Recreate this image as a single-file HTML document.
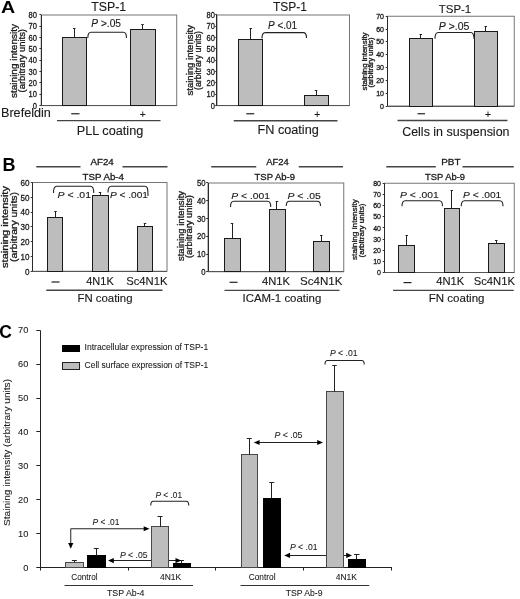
<!DOCTYPE html>
<html><head><meta charset="utf-8"><title>Figure</title>
<style>
html,body{margin:0;padding:0;background:#fff;}
body{width:520px;height:599px;overflow:hidden;font-family:"Liberation Sans",sans-serif;}
svg{display:block;filter:grayscale(1);}
svg text{font-family:"Liberation Sans",sans-serif;}
</style></head>
<body>
<svg width="520" height="599" viewBox="0 0 520 599">
<rect x="0" y="0" width="520" height="599" fill="#ffffff"/>
<text transform="translate(1,13.4) scale(1.06,0.88)" font-size="18.5" font-weight="bold" fill="#000">A</text>
<rect x="41.20" y="15.00" width="135.50" height="90.60" fill="none" stroke="#757575" stroke-width="1"/>
<line x1="41.50" y1="15.00" x2="41.50" y2="105.60" stroke="#2a2a2a" stroke-width="1" />
<line x1="41.20" y1="105.50" x2="176.70" y2="105.50" stroke="#555" stroke-width="1" />
<line x1="39.40" y1="105.50" x2="41.20" y2="105.50" stroke="#333" stroke-width="1" />
<text x="32.80" y="108.70" font-size="8.6" textLength="4.20" lengthAdjust="spacingAndGlyphs" fill="#1a1a1a" stroke="#1a1a1a" stroke-width="0.3" >0</text>
<line x1="39.40" y1="94.50" x2="41.20" y2="94.50" stroke="#333" stroke-width="1" />
<text x="28.60" y="97.37" font-size="8.6" textLength="8.40" lengthAdjust="spacingAndGlyphs" fill="#1a1a1a" stroke="#1a1a1a" stroke-width="0.3" >10</text>
<line x1="39.40" y1="82.50" x2="41.20" y2="82.50" stroke="#333" stroke-width="1" />
<text x="28.60" y="86.05" font-size="8.6" textLength="8.40" lengthAdjust="spacingAndGlyphs" fill="#1a1a1a" stroke="#1a1a1a" stroke-width="0.3" >20</text>
<line x1="39.40" y1="71.50" x2="41.20" y2="71.50" stroke="#333" stroke-width="1" />
<text x="28.60" y="74.72" font-size="8.6" textLength="8.40" lengthAdjust="spacingAndGlyphs" fill="#1a1a1a" stroke="#1a1a1a" stroke-width="0.3" >30</text>
<line x1="39.40" y1="60.50" x2="41.20" y2="60.50" stroke="#333" stroke-width="1" />
<text x="28.60" y="63.40" font-size="8.6" textLength="8.40" lengthAdjust="spacingAndGlyphs" fill="#1a1a1a" stroke="#1a1a1a" stroke-width="0.3" >40</text>
<line x1="39.40" y1="48.50" x2="41.20" y2="48.50" stroke="#333" stroke-width="1" />
<text x="28.60" y="52.07" font-size="8.6" textLength="8.40" lengthAdjust="spacingAndGlyphs" fill="#1a1a1a" stroke="#1a1a1a" stroke-width="0.3" >50</text>
<line x1="39.40" y1="37.50" x2="41.20" y2="37.50" stroke="#333" stroke-width="1" />
<text x="28.60" y="40.75" font-size="8.6" textLength="8.40" lengthAdjust="spacingAndGlyphs" fill="#1a1a1a" stroke="#1a1a1a" stroke-width="0.3" >60</text>
<line x1="39.40" y1="26.50" x2="41.20" y2="26.50" stroke="#333" stroke-width="1" />
<text x="28.60" y="29.42" font-size="8.6" textLength="8.40" lengthAdjust="spacingAndGlyphs" fill="#1a1a1a" stroke="#1a1a1a" stroke-width="0.3" >70</text>
<line x1="39.40" y1="14.50" x2="41.20" y2="14.50" stroke="#333" stroke-width="1" />
<text x="28.60" y="18.10" font-size="8.6" textLength="8.40" lengthAdjust="spacingAndGlyphs" fill="#1a1a1a" stroke="#1a1a1a" stroke-width="0.3" >80</text>
<text transform="translate(16.90,98.00) rotate(-90)" font-size="9.2" textLength="74.00" lengthAdjust="spacingAndGlyphs" fill="#1a1a1a" stroke="#1a1a1a" stroke-width="0.3">staining intensity</text>
<text transform="translate(24.90,92.50) rotate(-90)" font-size="9.2" textLength="63.50" lengthAdjust="spacingAndGlyphs" fill="#1a1a1a" stroke="#1a1a1a" stroke-width="0.3">(arbitrary units)</text>
<text x="91.25" y="10.70" font-size="12.3" textLength="35.00" lengthAdjust="spacingAndGlyphs" fill="#1a1a1a" stroke="#1a1a1a" stroke-width="0.12" >TSP-1</text>
<rect x="62.50" y="37.50" width="24.00" height="68.00" fill="#bdbdbd" stroke="#1a1a1a" stroke-width="1"/>
<line x1="74.50" y1="28.00" x2="74.50" y2="37.30" stroke="#222" stroke-width="1" />
<line x1="72.95" y1="28.50" x2="75.45" y2="28.50" stroke="#222" stroke-width="1" />
<rect x="130.50" y="29.50" width="25.00" height="76.00" fill="#bdbdbd" stroke="#1a1a1a" stroke-width="1"/>
<line x1="142.50" y1="25.00" x2="142.50" y2="29.80" stroke="#222" stroke-width="1" />
<line x1="141.25" y1="24.50" x2="143.75" y2="24.50" stroke="#222" stroke-width="1" />
<path d="M87.80,38.00 C87.80,33.80 88.60,32.30 91.00,32.30 L123.30,32.30 C125.70,32.30 126.50,33.80 126.50,38.00" stroke="#222" stroke-width="1.1" fill="none"/>
<text x="91.30" y="27.10" font-size="10.2" textLength="29.70" lengthAdjust="spacingAndGlyphs" fill="#1a1a1a" stroke="#1a1a1a" stroke-width="0.12" ><tspan font-style="italic">P</tspan> >.05</text>
<text x="1.00" y="117.40" font-size="12.3" textLength="49.80" lengthAdjust="spacingAndGlyphs" fill="#1a1a1a" stroke="#1a1a1a" stroke-width="0.12" >Brefeldin</text>
<line x1="71.25" y1="113.75" x2="79.50" y2="113.75" stroke="#222" stroke-width="1.2" />
<text x="139.80" y="118.00" font-size="10" textLength="6.00" lengthAdjust="spacingAndGlyphs" fill="#1a1a1a" stroke="#1a1a1a" stroke-width="0.12" >+</text>
<line x1="57.00" y1="120.60" x2="160.50" y2="120.60" stroke="#444" stroke-width="1.4" />
<text x="76.75" y="135.40" font-size="12.3" textLength="66.50" lengthAdjust="spacingAndGlyphs" fill="#1a1a1a" stroke="#1a1a1a" stroke-width="0.12" >PLL coating</text>
<rect x="217.00" y="15.00" width="132.50" height="90.60" fill="none" stroke="#757575" stroke-width="1"/>
<line x1="216.50" y1="15.00" x2="216.50" y2="105.60" stroke="#2a2a2a" stroke-width="1" />
<line x1="217.00" y1="105.50" x2="349.50" y2="105.50" stroke="#555" stroke-width="1" />
<line x1="215.20" y1="105.50" x2="217.00" y2="105.50" stroke="#333" stroke-width="1" />
<text x="210.80" y="108.70" font-size="8.6" textLength="4.20" lengthAdjust="spacingAndGlyphs" fill="#1a1a1a" stroke="#1a1a1a" stroke-width="0.3" >0</text>
<line x1="215.20" y1="94.50" x2="217.00" y2="94.50" stroke="#333" stroke-width="1" />
<text x="206.60" y="97.37" font-size="8.6" textLength="8.40" lengthAdjust="spacingAndGlyphs" fill="#1a1a1a" stroke="#1a1a1a" stroke-width="0.3" >10</text>
<line x1="215.20" y1="82.50" x2="217.00" y2="82.50" stroke="#333" stroke-width="1" />
<text x="206.60" y="86.05" font-size="8.6" textLength="8.40" lengthAdjust="spacingAndGlyphs" fill="#1a1a1a" stroke="#1a1a1a" stroke-width="0.3" >20</text>
<line x1="215.20" y1="71.50" x2="217.00" y2="71.50" stroke="#333" stroke-width="1" />
<text x="206.60" y="74.72" font-size="8.6" textLength="8.40" lengthAdjust="spacingAndGlyphs" fill="#1a1a1a" stroke="#1a1a1a" stroke-width="0.3" >30</text>
<line x1="215.20" y1="60.50" x2="217.00" y2="60.50" stroke="#333" stroke-width="1" />
<text x="206.60" y="63.40" font-size="8.6" textLength="8.40" lengthAdjust="spacingAndGlyphs" fill="#1a1a1a" stroke="#1a1a1a" stroke-width="0.3" >40</text>
<line x1="215.20" y1="48.50" x2="217.00" y2="48.50" stroke="#333" stroke-width="1" />
<text x="206.60" y="52.07" font-size="8.6" textLength="8.40" lengthAdjust="spacingAndGlyphs" fill="#1a1a1a" stroke="#1a1a1a" stroke-width="0.3" >50</text>
<line x1="215.20" y1="37.50" x2="217.00" y2="37.50" stroke="#333" stroke-width="1" />
<text x="206.60" y="40.75" font-size="8.6" textLength="8.40" lengthAdjust="spacingAndGlyphs" fill="#1a1a1a" stroke="#1a1a1a" stroke-width="0.3" >60</text>
<line x1="215.20" y1="26.50" x2="217.00" y2="26.50" stroke="#333" stroke-width="1" />
<text x="206.60" y="29.42" font-size="8.6" textLength="8.40" lengthAdjust="spacingAndGlyphs" fill="#1a1a1a" stroke="#1a1a1a" stroke-width="0.3" >70</text>
<line x1="215.20" y1="14.50" x2="217.00" y2="14.50" stroke="#333" stroke-width="1" />
<text x="206.60" y="18.10" font-size="8.6" textLength="8.40" lengthAdjust="spacingAndGlyphs" fill="#1a1a1a" stroke="#1a1a1a" stroke-width="0.3" >80</text>
<text transform="translate(192.60,95.50) rotate(-90)" font-size="9.2" textLength="70.50" lengthAdjust="spacingAndGlyphs" fill="#1a1a1a" stroke="#1a1a1a" stroke-width="0.3">staining intensity</text>
<text transform="translate(201.20,90.00) rotate(-90)" font-size="9.2" textLength="59.00" lengthAdjust="spacingAndGlyphs" fill="#1a1a1a" stroke="#1a1a1a" stroke-width="0.3">(arbitrary units)</text>
<text x="273.00" y="10.70" font-size="12.3" textLength="34.00" lengthAdjust="spacingAndGlyphs" fill="#1a1a1a" stroke="#1a1a1a" stroke-width="0.12" >TSP-1</text>
<rect x="238.50" y="39.50" width="24.00" height="66.00" fill="#bdbdbd" stroke="#1a1a1a" stroke-width="1"/>
<line x1="250.50" y1="28.00" x2="250.50" y2="39.50" stroke="#222" stroke-width="1" />
<line x1="249.50" y1="28.50" x2="252.00" y2="28.50" stroke="#222" stroke-width="1" />
<rect x="304.50" y="95.50" width="24.00" height="10.00" fill="#bdbdbd" stroke="#1a1a1a" stroke-width="1"/>
<line x1="316.50" y1="90.50" x2="316.50" y2="95.50" stroke="#222" stroke-width="1" />
<line x1="314.75" y1="90.50" x2="317.25" y2="90.50" stroke="#222" stroke-width="1" />
<path d="M262.00,38.50 C262.00,34.10 262.80,32.60 265.20,32.60 L303.30,32.60 C305.70,32.60 306.50,34.10 306.50,38.00" stroke="#222" stroke-width="1.1" fill="none"/>
<text x="268.00" y="29.40" font-size="10" textLength="29.00" lengthAdjust="spacingAndGlyphs" fill="#1a1a1a" stroke="#1a1a1a" stroke-width="0.12" ><tspan font-style="italic">P</tspan> <.01</text>
<line x1="246.25" y1="113.75" x2="254.25" y2="113.75" stroke="#222" stroke-width="1.2" />
<text x="314.30" y="118.00" font-size="10" textLength="6.00" lengthAdjust="spacingAndGlyphs" fill="#1a1a1a" stroke="#1a1a1a" stroke-width="0.12" >+</text>
<line x1="233.75" y1="120.75" x2="337.50" y2="120.75" stroke="#444" stroke-width="1.4" />
<text x="257.50" y="134.30" font-size="12.3" textLength="61.25" lengthAdjust="spacingAndGlyphs" fill="#1a1a1a" stroke="#1a1a1a" stroke-width="0.12" >FN coating</text>
<rect x="387.50" y="16.25" width="126.75" height="89.75" fill="none" stroke="#757575" stroke-width="1"/>
<line x1="387.50" y1="16.25" x2="387.50" y2="106.00" stroke="#2a2a2a" stroke-width="1" />
<line x1="387.50" y1="106.50" x2="514.25" y2="106.50" stroke="#555" stroke-width="1" />
<line x1="385.70" y1="106.50" x2="387.50" y2="106.50" stroke="#333" stroke-width="1" />
<text x="380.10" y="108.52" font-size="7" textLength="3.90" lengthAdjust="spacingAndGlyphs" fill="#1a1a1a" stroke="#1a1a1a" stroke-width="0.3" >0</text>
<line x1="385.70" y1="93.50" x2="387.50" y2="93.50" stroke="#333" stroke-width="1" />
<text x="376.20" y="95.70" font-size="7" textLength="7.80" lengthAdjust="spacingAndGlyphs" fill="#1a1a1a" stroke="#1a1a1a" stroke-width="0.3" >10</text>
<line x1="385.70" y1="80.50" x2="387.50" y2="80.50" stroke="#333" stroke-width="1" />
<text x="376.20" y="82.88" font-size="7" textLength="7.80" lengthAdjust="spacingAndGlyphs" fill="#1a1a1a" stroke="#1a1a1a" stroke-width="0.3" >20</text>
<line x1="385.70" y1="67.50" x2="387.50" y2="67.50" stroke="#333" stroke-width="1" />
<text x="376.20" y="70.06" font-size="7" textLength="7.80" lengthAdjust="spacingAndGlyphs" fill="#1a1a1a" stroke="#1a1a1a" stroke-width="0.3" >30</text>
<line x1="385.70" y1="54.50" x2="387.50" y2="54.50" stroke="#333" stroke-width="1" />
<text x="376.20" y="57.23" font-size="7" textLength="7.80" lengthAdjust="spacingAndGlyphs" fill="#1a1a1a" stroke="#1a1a1a" stroke-width="0.3" >40</text>
<line x1="385.70" y1="41.50" x2="387.50" y2="41.50" stroke="#333" stroke-width="1" />
<text x="376.20" y="44.41" font-size="7" textLength="7.80" lengthAdjust="spacingAndGlyphs" fill="#1a1a1a" stroke="#1a1a1a" stroke-width="0.3" >50</text>
<line x1="385.70" y1="29.50" x2="387.50" y2="29.50" stroke="#333" stroke-width="1" />
<text x="376.20" y="31.59" font-size="7" textLength="7.80" lengthAdjust="spacingAndGlyphs" fill="#1a1a1a" stroke="#1a1a1a" stroke-width="0.3" >60</text>
<line x1="385.70" y1="16.50" x2="387.50" y2="16.50" stroke="#333" stroke-width="1" />
<text x="376.20" y="18.77" font-size="7" textLength="7.80" lengthAdjust="spacingAndGlyphs" fill="#1a1a1a" stroke="#1a1a1a" stroke-width="0.3" >70</text>
<text transform="translate(366.60,90.50) rotate(-90)" font-size="6.6" textLength="58.00" lengthAdjust="spacingAndGlyphs" fill="#1a1a1a" stroke="#1a1a1a" stroke-width="0.3">staining intensity</text>
<text transform="translate(373.40,87.50) rotate(-90)" font-size="6.6" textLength="50.00" lengthAdjust="spacingAndGlyphs" fill="#1a1a1a" stroke="#1a1a1a" stroke-width="0.3">(arbitrary units)</text>
<text x="438.75" y="12.50" font-size="11.8" textLength="32.50" lengthAdjust="spacingAndGlyphs" fill="#1a1a1a" stroke="#1a1a1a" stroke-width="0.12" >TSP-1</text>
<rect x="409.50" y="38.50" width="23.00" height="68.00" fill="#bdbdbd" stroke="#1a1a1a" stroke-width="1"/>
<line x1="420.50" y1="34.50" x2="420.50" y2="38.00" stroke="#222" stroke-width="1" />
<line x1="419.50" y1="34.50" x2="422.00" y2="34.50" stroke="#222" stroke-width="1" />
<rect x="474.50" y="31.50" width="23.00" height="75.00" fill="#bdbdbd" stroke="#1a1a1a" stroke-width="1"/>
<line x1="485.50" y1="26.25" x2="485.50" y2="31.50" stroke="#222" stroke-width="1" />
<line x1="484.50" y1="26.50" x2="487.00" y2="26.50" stroke="#222" stroke-width="1" />
<path d="M435.00,38.75 C435.00,34.00 435.80,32.50 438.20,32.50 L470.80,32.50 C473.20,32.50 474.00,34.00 474.00,38.75" stroke="#222" stroke-width="1.1" fill="none"/>
<text x="438.80" y="29.60" font-size="10.2" textLength="30.60" lengthAdjust="spacingAndGlyphs" fill="#1a1a1a" stroke="#1a1a1a" stroke-width="0.12" ><tspan font-style="italic">P</tspan> >.05</text>
<line x1="417.50" y1="113.75" x2="425.00" y2="113.75" stroke="#222" stroke-width="1.2" />
<text x="485.00" y="118.00" font-size="10" textLength="6.00" lengthAdjust="spacingAndGlyphs" fill="#1a1a1a" stroke="#1a1a1a" stroke-width="0.12" >+</text>
<line x1="397.50" y1="120.50" x2="507.50" y2="120.50" stroke="#444" stroke-width="1.4" />
<text x="402.20" y="135.50" font-size="12.3" textLength="107.30" lengthAdjust="spacingAndGlyphs" fill="#1a1a1a" stroke="#1a1a1a" stroke-width="0.12" >Cells in suspension</text>
<text x="2.6" y="171.2" font-size="18" font-weight="bold" fill="#000">B</text>
<text x="90.50" y="165.00" font-size="9.2" textLength="23.25" lengthAdjust="spacingAndGlyphs" fill="#1a1a1a" stroke="#1a1a1a" stroke-width="0.3" >AF24</text>
<line x1="36.30" y1="166.80" x2="80.50" y2="166.80" stroke="#444" stroke-width="1.4" />
<line x1="122.50" y1="166.80" x2="167.50" y2="166.80" stroke="#444" stroke-width="1.4" />
<text x="82.50" y="179.50" font-size="9.2" textLength="41.50" lengthAdjust="spacingAndGlyphs" fill="#1a1a1a" stroke="#1a1a1a" stroke-width="0.3" >TSP Ab-4</text>
<rect x="32.50" y="182.50" width="134.50" height="88.75" fill="none" stroke="#757575" stroke-width="1"/>
<line x1="32.50" y1="182.50" x2="32.50" y2="271.25" stroke="#2a2a2a" stroke-width="1" />
<line x1="32.50" y1="271.50" x2="167.00" y2="271.50" stroke="#555" stroke-width="1" />
<line x1="30.70" y1="271.50" x2="32.50" y2="271.50" stroke="#333" stroke-width="1" />
<text x="25.10" y="274.63" font-size="9.4" textLength="4.50" lengthAdjust="spacingAndGlyphs" fill="#1a1a1a" stroke="#1a1a1a" stroke-width="0.3" >0</text>
<line x1="30.70" y1="256.50" x2="32.50" y2="256.50" stroke="#333" stroke-width="1" />
<text x="20.60" y="259.84" font-size="9.4" textLength="9.00" lengthAdjust="spacingAndGlyphs" fill="#1a1a1a" stroke="#1a1a1a" stroke-width="0.3" >10</text>
<line x1="30.70" y1="241.50" x2="32.50" y2="241.50" stroke="#333" stroke-width="1" />
<text x="20.60" y="245.05" font-size="9.4" textLength="9.00" lengthAdjust="spacingAndGlyphs" fill="#1a1a1a" stroke="#1a1a1a" stroke-width="0.3" >20</text>
<line x1="30.70" y1="226.50" x2="32.50" y2="226.50" stroke="#333" stroke-width="1" />
<text x="20.60" y="230.26" font-size="9.4" textLength="9.00" lengthAdjust="spacingAndGlyphs" fill="#1a1a1a" stroke="#1a1a1a" stroke-width="0.3" >30</text>
<line x1="30.70" y1="212.50" x2="32.50" y2="212.50" stroke="#333" stroke-width="1" />
<text x="20.60" y="215.47" font-size="9.4" textLength="9.00" lengthAdjust="spacingAndGlyphs" fill="#1a1a1a" stroke="#1a1a1a" stroke-width="0.3" >40</text>
<line x1="30.70" y1="197.50" x2="32.50" y2="197.50" stroke="#333" stroke-width="1" />
<text x="20.60" y="200.68" font-size="9.4" textLength="9.00" lengthAdjust="spacingAndGlyphs" fill="#1a1a1a" stroke="#1a1a1a" stroke-width="0.3" >50</text>
<line x1="30.70" y1="182.50" x2="32.50" y2="182.50" stroke="#333" stroke-width="1" />
<text x="20.60" y="185.88" font-size="9.4" textLength="9.00" lengthAdjust="spacingAndGlyphs" fill="#1a1a1a" stroke="#1a1a1a" stroke-width="0.3" >60</text>
<text transform="translate(8.00,268.00) rotate(-90)" font-size="9" textLength="82.00" lengthAdjust="spacingAndGlyphs" fill="#1a1a1a" stroke="#1a1a1a" stroke-width="0.3">staining intensity</text>
<text transform="translate(17.00,262.00) rotate(-90)" font-size="9" textLength="70.00" lengthAdjust="spacingAndGlyphs" fill="#1a1a1a" stroke="#1a1a1a" stroke-width="0.3">(arbitrary units)</text>
<rect x="47.50" y="217.50" width="15.00" height="54.00" fill="#bdbdbd" stroke="#1a1a1a" stroke-width="1"/>
<line x1="55.50" y1="211.25" x2="55.50" y2="217.00" stroke="#222" stroke-width="1" />
<line x1="54.25" y1="211.50" x2="56.75" y2="211.50" stroke="#222" stroke-width="1" />
<rect x="92.50" y="195.50" width="16.00" height="76.00" fill="#bdbdbd" stroke="#1a1a1a" stroke-width="1"/>
<line x1="100.50" y1="192.50" x2="100.50" y2="195.00" stroke="#222" stroke-width="1" />
<line x1="98.75" y1="192.50" x2="101.25" y2="192.50" stroke="#222" stroke-width="1" />
<rect x="137.50" y="226.50" width="15.00" height="45.00" fill="#bdbdbd" stroke="#1a1a1a" stroke-width="1"/>
<line x1="144.50" y1="223.75" x2="144.50" y2="226.25" stroke="#222" stroke-width="1" />
<line x1="143.75" y1="223.50" x2="146.25" y2="223.50" stroke="#222" stroke-width="1" />
<path d="M53.50,193.00 C53.50,187.75 54.30,186.25 56.70,186.25 L90.55,186.25 C92.95,186.25 93.75,187.75 93.75,193.00" stroke="#222" stroke-width="1.1" fill="none"/>
<path d="M108.00,192.50 C108.00,187.75 108.80,186.25 111.20,186.25 L144.80,186.25 C147.20,186.25 148.00,187.75 148.00,196.00" stroke="#222" stroke-width="1.1" fill="none"/>
<text x="57.50" y="198.00" font-size="9.6" textLength="33.50" lengthAdjust="spacingAndGlyphs" fill="#1a1a1a" stroke="#1a1a1a" stroke-width="0.12" ><tspan font-style="italic">P</tspan> &lt; .01</text>
<text x="110.00" y="198.00" font-size="9.6" textLength="38.00" lengthAdjust="spacingAndGlyphs" fill="#1a1a1a" stroke="#1a1a1a" stroke-width="0.12" ><tspan font-style="italic">P</tspan> &lt; .001</text>
<line x1="51.50" y1="282.00" x2="59.50" y2="282.00" stroke="#222" stroke-width="1.2" />
<text x="86.25" y="285.00" font-size="10.5" textLength="27.50" lengthAdjust="spacingAndGlyphs" fill="#1a1a1a" stroke="#1a1a1a" stroke-width="0.12" >4N1K</text>
<text x="126.25" y="285.00" font-size="10.5" textLength="41.25" lengthAdjust="spacingAndGlyphs" fill="#1a1a1a" stroke="#1a1a1a" stroke-width="0.12" >Sc4N1K</text>
<line x1="46.25" y1="290.30" x2="162.50" y2="290.30" stroke="#444" stroke-width="1.4" />
<text x="77.50" y="301.60" font-size="10.2" textLength="55.00" lengthAdjust="spacingAndGlyphs" fill="#1a1a1a" stroke="#1a1a1a" stroke-width="0.12" >FN coating</text>
<text x="266.25" y="165.00" font-size="9.2" textLength="22.50" lengthAdjust="spacingAndGlyphs" fill="#1a1a1a" stroke="#1a1a1a" stroke-width="0.3" >AF24</text>
<line x1="211.25" y1="166.80" x2="256.25" y2="166.80" stroke="#444" stroke-width="1.4" />
<line x1="298.75" y1="166.80" x2="343.00" y2="166.80" stroke="#444" stroke-width="1.4" />
<text x="254.50" y="179.50" font-size="9.2" textLength="40.50" lengthAdjust="spacingAndGlyphs" fill="#1a1a1a" stroke="#1a1a1a" stroke-width="0.3" >TSP Ab-9</text>
<rect x="208.00" y="183.00" width="135.75" height="88.75" fill="none" stroke="#757575" stroke-width="1"/>
<line x1="208.50" y1="183.00" x2="208.50" y2="271.75" stroke="#2a2a2a" stroke-width="1" />
<line x1="208.00" y1="271.50" x2="343.75" y2="271.50" stroke="#555" stroke-width="1" />
<line x1="206.20" y1="271.50" x2="208.00" y2="271.50" stroke="#333" stroke-width="1" />
<text x="201.30" y="274.85" font-size="8.6" textLength="4.30" lengthAdjust="spacingAndGlyphs" fill="#1a1a1a" stroke="#1a1a1a" stroke-width="0.3" >0</text>
<line x1="206.20" y1="254.50" x2="208.00" y2="254.50" stroke="#333" stroke-width="1" />
<text x="197.00" y="257.10" font-size="8.6" textLength="8.60" lengthAdjust="spacingAndGlyphs" fill="#1a1a1a" stroke="#1a1a1a" stroke-width="0.3" >10</text>
<line x1="206.20" y1="236.50" x2="208.00" y2="236.50" stroke="#333" stroke-width="1" />
<text x="197.00" y="239.35" font-size="8.6" textLength="8.60" lengthAdjust="spacingAndGlyphs" fill="#1a1a1a" stroke="#1a1a1a" stroke-width="0.3" >20</text>
<line x1="206.20" y1="218.50" x2="208.00" y2="218.50" stroke="#333" stroke-width="1" />
<text x="197.00" y="221.60" font-size="8.6" textLength="8.60" lengthAdjust="spacingAndGlyphs" fill="#1a1a1a" stroke="#1a1a1a" stroke-width="0.3" >30</text>
<line x1="206.20" y1="200.50" x2="208.00" y2="200.50" stroke="#333" stroke-width="1" />
<text x="197.00" y="203.85" font-size="8.6" textLength="8.60" lengthAdjust="spacingAndGlyphs" fill="#1a1a1a" stroke="#1a1a1a" stroke-width="0.3" >40</text>
<line x1="206.20" y1="182.50" x2="208.00" y2="182.50" stroke="#333" stroke-width="1" />
<text x="197.00" y="186.10" font-size="8.6" textLength="8.60" lengthAdjust="spacingAndGlyphs" fill="#1a1a1a" stroke="#1a1a1a" stroke-width="0.3" >50</text>
<text transform="translate(184.00,261.00) rotate(-90)" font-size="8.2" textLength="70.00" lengthAdjust="spacingAndGlyphs" fill="#1a1a1a" stroke="#1a1a1a" stroke-width="0.3">staining intensity</text>
<text transform="translate(192.00,258.00) rotate(-90)" font-size="8.2" textLength="63.00" lengthAdjust="spacingAndGlyphs" fill="#1a1a1a" stroke="#1a1a1a" stroke-width="0.3">(arbitrary units)</text>
<rect x="224.50" y="238.50" width="16.00" height="33.00" fill="#bdbdbd" stroke="#1a1a1a" stroke-width="1"/>
<line x1="232.50" y1="223.75" x2="232.50" y2="238.00" stroke="#222" stroke-width="1" />
<line x1="230.75" y1="223.50" x2="233.25" y2="223.50" stroke="#222" stroke-width="1" />
<rect x="269.50" y="209.50" width="16.00" height="62.00" fill="#bdbdbd" stroke="#1a1a1a" stroke-width="1"/>
<line x1="276.50" y1="201.25" x2="276.50" y2="209.25" stroke="#222" stroke-width="1" />
<line x1="275.75" y1="201.50" x2="278.25" y2="201.50" stroke="#222" stroke-width="1" />
<rect x="313.50" y="241.50" width="16.00" height="30.00" fill="#bdbdbd" stroke="#1a1a1a" stroke-width="1"/>
<line x1="321.50" y1="235.50" x2="321.50" y2="241.25" stroke="#222" stroke-width="1" />
<line x1="320.00" y1="235.50" x2="322.50" y2="235.50" stroke="#222" stroke-width="1" />
<path d="M230.50,207.00 C230.50,202.75 231.30,201.25 233.70,201.25 L267.55,201.25 C269.95,201.25 270.75,202.75 270.75,207.00" stroke="#222" stroke-width="1.1" fill="none"/>
<path d="M286.25,206.00 C286.25,202.75 287.05,201.25 289.45,201.25 L317.30,201.25 C319.70,201.25 320.50,202.75 320.50,206.00" stroke="#222" stroke-width="1.1" fill="none"/>
<text x="231.25" y="198.75" font-size="9.6" textLength="38.75" lengthAdjust="spacingAndGlyphs" fill="#1a1a1a" stroke="#1a1a1a" stroke-width="0.12" ><tspan font-style="italic">P</tspan> &lt; .001</text>
<text x="287.50" y="198.75" font-size="9.6" textLength="33.25" lengthAdjust="spacingAndGlyphs" fill="#1a1a1a" stroke="#1a1a1a" stroke-width="0.12" ><tspan font-style="italic">P</tspan> &lt; .05</text>
<line x1="229.50" y1="282.30" x2="237.50" y2="282.30" stroke="#222" stroke-width="1.2" />
<text x="262.00" y="285.00" font-size="10.5" textLength="28.00" lengthAdjust="spacingAndGlyphs" fill="#1a1a1a" stroke="#1a1a1a" stroke-width="0.12" >4N1K</text>
<text x="300.00" y="285.00" font-size="10.5" textLength="42.50" lengthAdjust="spacingAndGlyphs" fill="#1a1a1a" stroke="#1a1a1a" stroke-width="0.12" >Sc4N1K</text>
<line x1="224.50" y1="290.40" x2="339.50" y2="290.40" stroke="#444" stroke-width="1.4" />
<text x="242.50" y="301.90" font-size="10.2" textLength="78.75" lengthAdjust="spacingAndGlyphs" fill="#1a1a1a" stroke="#1a1a1a" stroke-width="0.12" >ICAM-1 coating</text>
<text x="441.25" y="165.00" font-size="9.2" textLength="19.25" lengthAdjust="spacingAndGlyphs" fill="#1a1a1a" stroke="#1a1a1a" stroke-width="0.3" >PBT</text>
<line x1="386.25" y1="166.80" x2="435.75" y2="166.80" stroke="#444" stroke-width="1.4" />
<line x1="462.50" y1="166.80" x2="513.75" y2="166.80" stroke="#444" stroke-width="1.4" />
<text x="425.00" y="179.50" font-size="9.2" textLength="40.00" lengthAdjust="spacingAndGlyphs" fill="#1a1a1a" stroke="#1a1a1a" stroke-width="0.3" >TSP Ab-9</text>
<rect x="384.50" y="183.25" width="129.75" height="89.25" fill="none" stroke="#757575" stroke-width="1"/>
<line x1="384.50" y1="183.25" x2="384.50" y2="272.50" stroke="#2a2a2a" stroke-width="1" />
<line x1="384.50" y1="272.50" x2="514.25" y2="272.50" stroke="#555" stroke-width="1" />
<line x1="382.70" y1="272.50" x2="384.50" y2="272.50" stroke="#333" stroke-width="1" />
<text x="377.10" y="275.24" font-size="7.6" textLength="3.90" lengthAdjust="spacingAndGlyphs" fill="#1a1a1a" stroke="#1a1a1a" stroke-width="0.3" >0</text>
<line x1="382.70" y1="261.50" x2="384.50" y2="261.50" stroke="#333" stroke-width="1" />
<text x="373.20" y="264.08" font-size="7.6" textLength="7.80" lengthAdjust="spacingAndGlyphs" fill="#1a1a1a" stroke="#1a1a1a" stroke-width="0.3" >10</text>
<line x1="382.70" y1="250.50" x2="384.50" y2="250.50" stroke="#333" stroke-width="1" />
<text x="373.20" y="252.92" font-size="7.6" textLength="7.80" lengthAdjust="spacingAndGlyphs" fill="#1a1a1a" stroke="#1a1a1a" stroke-width="0.3" >20</text>
<line x1="382.70" y1="239.50" x2="384.50" y2="239.50" stroke="#333" stroke-width="1" />
<text x="373.20" y="241.77" font-size="7.6" textLength="7.80" lengthAdjust="spacingAndGlyphs" fill="#1a1a1a" stroke="#1a1a1a" stroke-width="0.3" >30</text>
<line x1="382.70" y1="227.50" x2="384.50" y2="227.50" stroke="#333" stroke-width="1" />
<text x="373.20" y="230.61" font-size="7.6" textLength="7.80" lengthAdjust="spacingAndGlyphs" fill="#1a1a1a" stroke="#1a1a1a" stroke-width="0.3" >40</text>
<line x1="382.70" y1="216.50" x2="384.50" y2="216.50" stroke="#333" stroke-width="1" />
<text x="373.20" y="219.45" font-size="7.6" textLength="7.80" lengthAdjust="spacingAndGlyphs" fill="#1a1a1a" stroke="#1a1a1a" stroke-width="0.3" >50</text>
<line x1="382.70" y1="205.50" x2="384.50" y2="205.50" stroke="#333" stroke-width="1" />
<text x="373.20" y="208.30" font-size="7.6" textLength="7.80" lengthAdjust="spacingAndGlyphs" fill="#1a1a1a" stroke="#1a1a1a" stroke-width="0.3" >60</text>
<line x1="382.70" y1="194.50" x2="384.50" y2="194.50" stroke="#333" stroke-width="1" />
<text x="373.20" y="197.14" font-size="7.6" textLength="7.80" lengthAdjust="spacingAndGlyphs" fill="#1a1a1a" stroke="#1a1a1a" stroke-width="0.3" >70</text>
<line x1="382.70" y1="183.50" x2="384.50" y2="183.50" stroke="#333" stroke-width="1" />
<text x="373.20" y="185.99" font-size="7.6" textLength="7.80" lengthAdjust="spacingAndGlyphs" fill="#1a1a1a" stroke="#1a1a1a" stroke-width="0.3" >80</text>
<text transform="translate(356.60,260.00) rotate(-90)" font-size="7" textLength="61.00" lengthAdjust="spacingAndGlyphs" fill="#1a1a1a" stroke="#1a1a1a" stroke-width="0.3">staining intensity</text>
<text transform="translate(363.60,257.50) rotate(-90)" font-size="7" textLength="54.00" lengthAdjust="spacingAndGlyphs" fill="#1a1a1a" stroke="#1a1a1a" stroke-width="0.3">(arbitrary units)</text>
<rect x="398.50" y="245.50" width="16.00" height="27.00" fill="#bdbdbd" stroke="#1a1a1a" stroke-width="1"/>
<line x1="406.50" y1="235.50" x2="406.50" y2="245.00" stroke="#222" stroke-width="1" />
<line x1="405.50" y1="235.50" x2="408.00" y2="235.50" stroke="#222" stroke-width="1" />
<rect x="444.50" y="208.50" width="15.00" height="64.00" fill="#bdbdbd" stroke="#1a1a1a" stroke-width="1"/>
<line x1="451.50" y1="190.00" x2="451.50" y2="208.25" stroke="#222" stroke-width="1" />
<line x1="450.50" y1="190.50" x2="453.00" y2="190.50" stroke="#222" stroke-width="1" />
<rect x="488.50" y="243.50" width="16.00" height="29.00" fill="#bdbdbd" stroke="#1a1a1a" stroke-width="1"/>
<line x1="496.50" y1="240.00" x2="496.50" y2="243.75" stroke="#222" stroke-width="1" />
<line x1="495.00" y1="240.50" x2="497.50" y2="240.50" stroke="#222" stroke-width="1" />
<path d="M402.00,206.25 C402.00,202.25 402.80,200.75 405.20,200.75 L439.30,200.75 C441.70,200.75 442.50,202.25 442.50,206.25" stroke="#222" stroke-width="1.1" fill="none"/>
<path d="M461.25,206.25 C461.25,202.25 462.05,200.75 464.45,200.75 L499.80,200.75 C502.20,200.75 503.00,202.25 503.00,206.25" stroke="#222" stroke-width="1.1" fill="none"/>
<text x="400.00" y="198.25" font-size="9.6" textLength="38.75" lengthAdjust="spacingAndGlyphs" fill="#1a1a1a" stroke="#1a1a1a" stroke-width="0.12" ><tspan font-style="italic">P</tspan> &lt; .001</text>
<text x="463.00" y="198.25" font-size="9.6" textLength="38.25" lengthAdjust="spacingAndGlyphs" fill="#1a1a1a" stroke="#1a1a1a" stroke-width="0.12" ><tspan font-style="italic">P</tspan> &lt; .001</text>
<line x1="403.50" y1="282.60" x2="411.50" y2="282.60" stroke="#222" stroke-width="1.2" />
<text x="436.25" y="285.00" font-size="10.5" textLength="28.00" lengthAdjust="spacingAndGlyphs" fill="#1a1a1a" stroke="#1a1a1a" stroke-width="0.12" >4N1K</text>
<text x="473.75" y="285.00" font-size="10.5" textLength="41.25" lengthAdjust="spacingAndGlyphs" fill="#1a1a1a" stroke="#1a1a1a" stroke-width="0.12" >Sc4N1K</text>
<line x1="393.00" y1="290.40" x2="513.75" y2="290.40" stroke="#444" stroke-width="1.4" />
<text x="428.75" y="301.90" font-size="10.2" textLength="55.75" lengthAdjust="spacingAndGlyphs" fill="#1a1a1a" stroke="#1a1a1a" stroke-width="0.12" >FN coating</text>
<text x="-0.8" y="338.3" font-size="17.5" font-weight="bold" fill="#000">C</text>
<line x1="40.50" y1="330.40" x2="40.50" y2="570.50" stroke="#222" stroke-width="1" />
<line x1="40.40" y1="567.50" x2="391.25" y2="567.50" stroke="#222" stroke-width="1" />
<line x1="128.50" y1="567.00" x2="128.50" y2="570.50" stroke="#222" stroke-width="1" />
<line x1="215.50" y1="567.00" x2="215.50" y2="570.50" stroke="#222" stroke-width="1" />
<line x1="303.50" y1="567.00" x2="303.50" y2="570.50" stroke="#222" stroke-width="1" />
<line x1="391.50" y1="567.00" x2="391.50" y2="570.50" stroke="#222" stroke-width="1" />
<line x1="36.30" y1="567.50" x2="40.40" y2="567.50" stroke="#222" stroke-width="1" />
<text x="23.25" y="570.70" font-size="9" textLength="5.15" lengthAdjust="spacingAndGlyphs" fill="#1a1a1a" stroke="#1a1a1a" stroke-width="0.08" >0</text>
<line x1="36.30" y1="533.50" x2="40.40" y2="533.50" stroke="#222" stroke-width="1" />
<text x="18.10" y="536.80" font-size="9" textLength="10.30" lengthAdjust="spacingAndGlyphs" fill="#1a1a1a" stroke="#1a1a1a" stroke-width="0.08" >10</text>
<line x1="36.30" y1="499.50" x2="40.40" y2="499.50" stroke="#222" stroke-width="1" />
<text x="18.10" y="502.90" font-size="9" textLength="10.30" lengthAdjust="spacingAndGlyphs" fill="#1a1a1a" stroke="#1a1a1a" stroke-width="0.08" >20</text>
<line x1="36.30" y1="465.50" x2="40.40" y2="465.50" stroke="#222" stroke-width="1" />
<text x="18.10" y="469.00" font-size="9" textLength="10.30" lengthAdjust="spacingAndGlyphs" fill="#1a1a1a" stroke="#1a1a1a" stroke-width="0.08" >30</text>
<line x1="36.30" y1="431.50" x2="40.40" y2="431.50" stroke="#222" stroke-width="1" />
<text x="18.10" y="435.10" font-size="9" textLength="10.30" lengthAdjust="spacingAndGlyphs" fill="#1a1a1a" stroke="#1a1a1a" stroke-width="0.08" >40</text>
<line x1="36.30" y1="398.50" x2="40.40" y2="398.50" stroke="#222" stroke-width="1" />
<text x="18.10" y="401.20" font-size="9" textLength="10.30" lengthAdjust="spacingAndGlyphs" fill="#1a1a1a" stroke="#1a1a1a" stroke-width="0.08" >50</text>
<line x1="36.30" y1="364.50" x2="40.40" y2="364.50" stroke="#222" stroke-width="1" />
<text x="18.10" y="367.30" font-size="9" textLength="10.30" lengthAdjust="spacingAndGlyphs" fill="#1a1a1a" stroke="#1a1a1a" stroke-width="0.08" >60</text>
<line x1="36.30" y1="330.50" x2="40.40" y2="330.50" stroke="#222" stroke-width="1" />
<text x="18.10" y="333.40" font-size="9" textLength="10.30" lengthAdjust="spacingAndGlyphs" fill="#1a1a1a" stroke="#1a1a1a" stroke-width="0.08" >70</text>
<text transform="translate(10.30,526.00) rotate(-90)" font-size="8.4" textLength="147.00" lengthAdjust="spacingAndGlyphs" fill="#1a1a1a" stroke="#1a1a1a" stroke-width="0.08">Staining intensity (arbitrary units)</text>
<rect x="62.50" y="345.50" width="17.00" height="6.00" fill="#000" stroke="#000" stroke-width="1"/>
<rect x="62.50" y="362.50" width="17.00" height="7.00" fill="#bdbdbd" stroke="#222" stroke-width="1"/>
<text x="84.60" y="350.30" font-size="8.6" textLength="123.60" lengthAdjust="spacingAndGlyphs" fill="#1a1a1a" stroke="#1a1a1a" stroke-width="0.08" >Intracellular expression of TSP-1</text>
<text x="84.60" y="368.30" font-size="8.6" textLength="123.60" lengthAdjust="spacingAndGlyphs" fill="#1a1a1a" stroke="#1a1a1a" stroke-width="0.08" >Cell surface expression of TSP-1</text>
<line x1="112.00" y1="560.50" x2="177.00" y2="560.50" stroke="#222" stroke-width="1" />
<polygon points="108,560.6 113.8,558.0 113.8,563.2" fill="#000"/>
<line x1="288.00" y1="555.50" x2="348.00" y2="555.50" stroke="#222" stroke-width="1" />
<polygon points="284.25,555.4 290.05,552.8 290.05,558.0" fill="#000"/>
<rect x="65.50" y="562.50" width="18.00" height="5.00" fill="#bdbdbd" stroke="#484848" stroke-width="1"/>
<line x1="74.50" y1="560.00" x2="74.50" y2="562.25" stroke="#222" stroke-width="1" />
<line x1="71.90" y1="560.50" x2="76.90" y2="560.50" stroke="#222" stroke-width="1" />
<rect x="87.50" y="555.50" width="18.00" height="12.00" fill="#000" stroke="#000" stroke-width="1"/>
<line x1="96.50" y1="548.75" x2="96.50" y2="555.47" stroke="#222" stroke-width="1" />
<line x1="93.75" y1="548.50" x2="98.75" y2="548.50" stroke="#222" stroke-width="1" />
<rect x="151.50" y="526.50" width="17.00" height="41.00" fill="#bdbdbd" stroke="#484848" stroke-width="1"/>
<line x1="160.50" y1="516.25" x2="160.50" y2="526.82" stroke="#222" stroke-width="1" />
<line x1="157.50" y1="516.50" x2="162.50" y2="516.50" stroke="#222" stroke-width="1" />
<rect x="173.50" y="563.50" width="17.00" height="4.00" fill="#000" stroke="#000" stroke-width="1"/>
<line x1="181.50" y1="561.00" x2="181.50" y2="563.43" stroke="#222" stroke-width="1" />
<line x1="179.00" y1="560.50" x2="184.00" y2="560.50" stroke="#222" stroke-width="1" />
<rect x="241.50" y="454.50" width="16.00" height="113.00" fill="#bdbdbd" stroke="#484848" stroke-width="1"/>
<line x1="249.50" y1="438.00" x2="249.50" y2="454.78" stroke="#222" stroke-width="1" />
<line x1="246.75" y1="438.50" x2="251.75" y2="438.50" stroke="#222" stroke-width="1" />
<rect x="263.50" y="498.50" width="17.00" height="69.00" fill="#000" stroke="#000" stroke-width="1"/>
<line x1="271.50" y1="482.00" x2="271.50" y2="498.00" stroke="#222" stroke-width="1" />
<line x1="269.25" y1="482.50" x2="274.25" y2="482.50" stroke="#222" stroke-width="1" />
<rect x="326.50" y="391.50" width="17.00" height="176.00" fill="#bdbdbd" stroke="#484848" stroke-width="1"/>
<line x1="334.50" y1="365.75" x2="334.50" y2="391.73" stroke="#222" stroke-width="1" />
<line x1="332.25" y1="365.50" x2="336.75" y2="365.50" stroke="#222" stroke-width="1" />
<rect x="348.50" y="559.50" width="17.00" height="8.00" fill="#000" stroke="#000" stroke-width="1"/>
<line x1="356.50" y1="554.50" x2="356.50" y2="559.19" stroke="#222" stroke-width="1" />
<line x1="354.00" y1="554.50" x2="359.50" y2="554.50" stroke="#222" stroke-width="1" />
<polygon points="181.3,560.6 175.5,558.0 175.5,563.2" fill="#000"/>
<polygon points="352,555.4 346.2,552.8 346.2,558.0" fill="#000"/>
<path d="M70.75,543 L70.75,528.75 L144,528.75" stroke="#222" stroke-width="1" fill="none"/>
<polygon points="70.75,548.75 68.15,542.95 73.35,542.95" fill="#000"/>
<polygon points="149.5,528.75 143.7,526.15 143.7,531.35" fill="#000"/>
<text x="92.50" y="525.00" font-size="9" textLength="27.00" lengthAdjust="spacingAndGlyphs" fill="#1a1a1a" stroke="#1a1a1a" stroke-width="0.08" ><tspan font-style="italic">P</tspan> &lt; .01</text>
<text x="120.00" y="558.00" font-size="9" textLength="27.50" lengthAdjust="spacingAndGlyphs" fill="#1a1a1a" stroke="#1a1a1a" stroke-width="0.08" ><tspan font-style="italic">P</tspan> &lt; .05</text>
<path d="M150.75,505.50 C150.75,502.75 151.55,501.25 153.25,501.25 L186.25,501.25 C187.95,501.25 188.75,502.75 188.75,505.50" stroke="#222" stroke-width="1.1" fill="none"/>
<text x="155.50" y="497.50" font-size="9" textLength="26.50" lengthAdjust="spacingAndGlyphs" fill="#1a1a1a" stroke="#1a1a1a" stroke-width="0.08" ><tspan font-style="italic">P</tspan> &lt; .01</text>
<line x1="258.00" y1="442.50" x2="319.00" y2="442.50" stroke="#222" stroke-width="1" />
<polygon points="253.75,442.5 259.55,439.9 259.55,445.1" fill="#000"/>
<polygon points="323,442.5 317.2,439.9 317.2,445.1" fill="#000"/>
<text x="274.50" y="437.50" font-size="9" textLength="28.00" lengthAdjust="spacingAndGlyphs" fill="#1a1a1a" stroke="#1a1a1a" stroke-width="0.08" ><tspan font-style="italic">P</tspan> &lt; .05</text>
<path d="M325.00,364.50 C325.00,362.00 325.80,360.50 327.50,360.50 L361.75,360.50 C363.45,360.50 364.25,362.00 364.25,364.50" stroke="#222" stroke-width="1.1" fill="none"/>
<text x="330.00" y="356.25" font-size="9" textLength="27.50" lengthAdjust="spacingAndGlyphs" fill="#1a1a1a" stroke="#1a1a1a" stroke-width="0.08" ><tspan font-style="italic">P</tspan> &lt; .01</text>
<text x="290.00" y="549.50" font-size="9" textLength="27.50" lengthAdjust="spacingAndGlyphs" fill="#1a1a1a" stroke="#1a1a1a" stroke-width="0.08" ><tspan font-style="italic">P</tspan> &lt; .01</text>
<text x="71.25" y="580.00" font-size="8.6" textLength="26.25" lengthAdjust="spacingAndGlyphs" fill="#1a1a1a" stroke="#1a1a1a" stroke-width="0.08" >Control</text>
<text x="160.00" y="580.00" font-size="8.6" textLength="21.25" lengthAdjust="spacingAndGlyphs" fill="#1a1a1a" stroke="#1a1a1a" stroke-width="0.08" >4N1K</text>
<line x1="64.50" y1="585.50" x2="193.00" y2="585.50" stroke="#333" stroke-width="1" />
<text x="107.00" y="596.20" font-size="8.6" textLength="37.50" lengthAdjust="spacingAndGlyphs" fill="#1a1a1a" stroke="#1a1a1a" stroke-width="0.08" >TSP Ab-4</text>
<text x="248.75" y="580.30" font-size="8.6" textLength="26.75" lengthAdjust="spacingAndGlyphs" fill="#1a1a1a" stroke="#1a1a1a" stroke-width="0.08" >Control</text>
<text x="335.75" y="580.30" font-size="8.6" textLength="21.25" lengthAdjust="spacingAndGlyphs" fill="#1a1a1a" stroke="#1a1a1a" stroke-width="0.08" >4N1K</text>
<line x1="240.50" y1="585.50" x2="369.25" y2="585.50" stroke="#333" stroke-width="1" />
<text x="285.75" y="596.20" font-size="8.6" textLength="36.75" lengthAdjust="spacingAndGlyphs" fill="#1a1a1a" stroke="#1a1a1a" stroke-width="0.08" >TSP Ab-9</text>
</svg>
</body></html>
